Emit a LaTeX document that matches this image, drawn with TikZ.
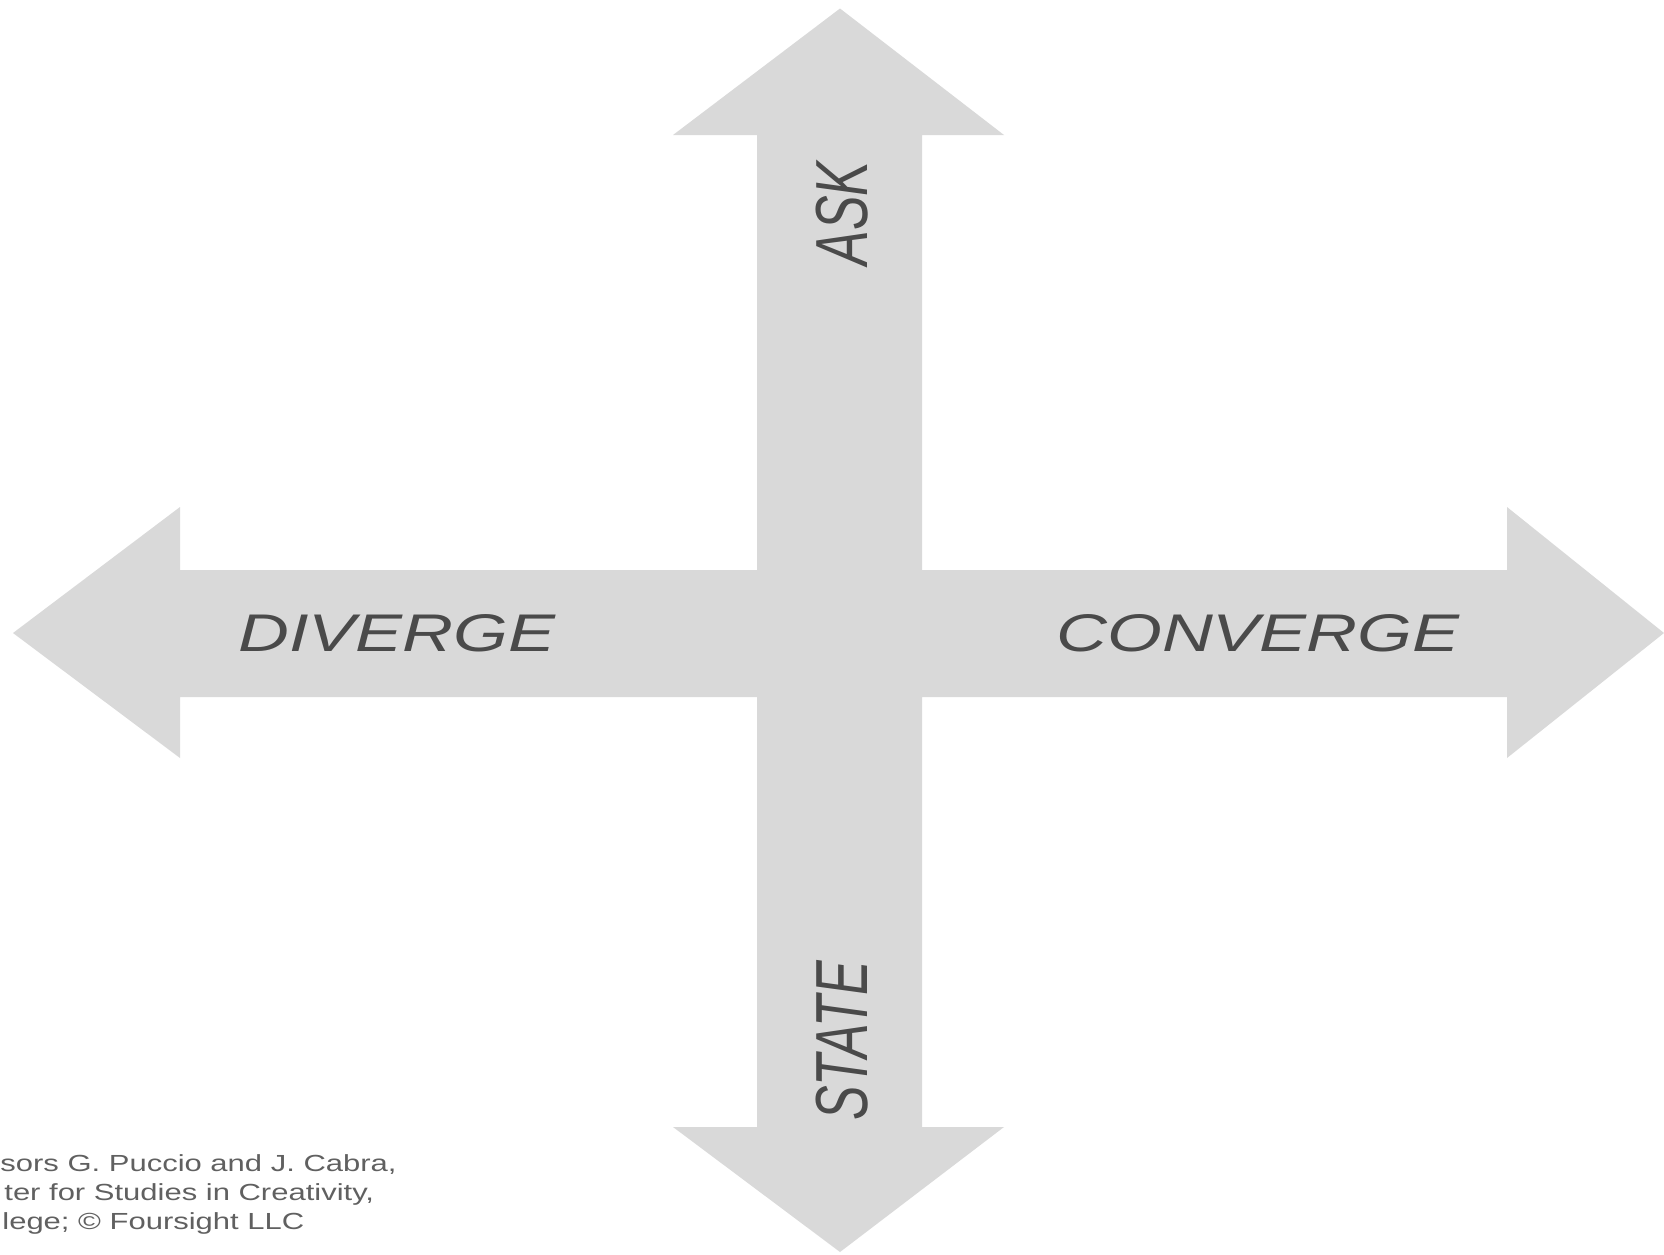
\documentclass[tikz,border=0pt]{standalone}
\usepackage{fontspec}
\setmainfont{Liberation Sans}
\usepackage{graphicx}
\definecolor{arrowfill}{HTML}{D9D9D9}
\definecolor{labelgray}{HTML}{4A4A4A}
\definecolor{creditgray}{HTML}{606060}
\begin{document}
\begin{tikzpicture}[x=0.5pt,y=-0.5pt,
  hlabel/.style={text=labelgray, inner sep=0pt, anchor=base,
    font=\fontsize{26.5}{30}\selectfont\itshape},
  vlabel/.style={text=labelgray, inner sep=0pt, anchor=base, rotate=90,
    font=\fontsize{26}{30}\selectfont\itshape},
  credit/.style={text=creditgray, inner sep=0pt, anchor=base west,
    font=\fontsize{11.65}{14}\selectfont}]
\useasboundingbox (0,0) rectangle (1664,1254);

% four-way arrow cross
\fill[arrowfill]
  (13,633) -- (180,507) -- (180,570) -- (757,570) -- (757,135) -- (673,135)
  -- (840,8.5) -- (1004,135) -- (922,135) -- (922,570) -- (1507,570)
  -- (1507,507) -- (1664,633) -- (1507,758) -- (1507,697) -- (922,697)
  -- (922,1127) -- (1004,1127) -- (840,1252) -- (673,1127) -- (757,1127)
  -- (757,697) -- (180,697) -- (180,758) -- cycle;

% arrow labels
\node[hlabel] (diverge) at (397,651) {\scalebox{1.33}[1]{DIVERGE}};
\node[hlabel] (converge) at (1258,651) {\scalebox{1.33}[1]{CONVERGE}};
\node[vlabel] (ask) at (867,213.5) {\scalebox{1}[1.42]{ASK}};
\node[vlabel] (state) at (867,1041) {\scalebox{1}[1.42]{STATE}};

% credit lines
\node[credit] (credA) at (0,1171) {\scalebox{1.33}[1]{sors G. Puccio and J. Cabra,}};
\node[credit] (credB) at (4,1200) {\scalebox{1.33}[1]{ter for Studies in Creativity,}};
\node[credit] (credC) at (2,1229) {\scalebox{1.33}[1]{lege; © Foursight LLC}};
\end{tikzpicture}
\end{document}
